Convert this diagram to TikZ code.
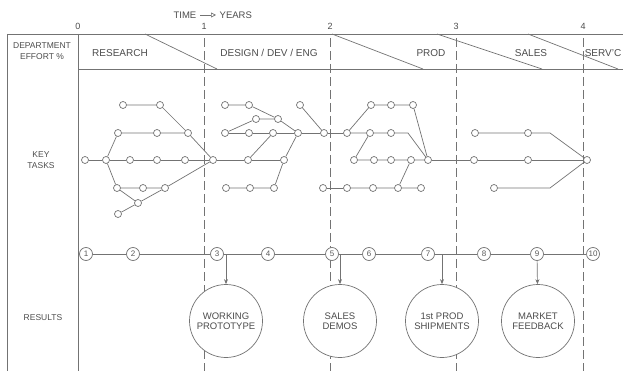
\documentclass[tikz,border=0pt]{standalone}
\usepackage{fontspec}
\setmainfont{Liberation Sans}
\usetikzlibrary{arrows.meta}
\begin{document}
\begin{tikzpicture}[x=1pt,y=-1pt,line width=0.7pt,draw=black!55,
  task/.style={circle,draw,fill=white,inner sep=0pt,minimum size=7pt},
  stage/.style={circle,draw,fill=white,inner sep=0pt,minimum size=13pt,font=\fontsize{8}{8}\selectfont,text=black!65},
  result/.style={circle,draw,fill=white,inner sep=0pt,minimum size=73pt,align=center,font=\fontsize{9.5}{10}\selectfont,text=black!70},
  label/.style={font=\fontsize{10}{11}\selectfont,text=black!70,align=center},
  year/.style={dash pattern=on 9pt off 4pt,line width=0.5pt},
  res arrow/.style={-{Stealth[length=5pt,width=4pt]}}]
\useasboundingbox (0,0) rectangle (623,371);
% frame and header
\draw (7,34) -- (623,34) (78,69) -- (623,69);
\draw (7,34) -- (7,371) (78,34) -- (78,371);
\draw (145,34) -- (217,69) (332,34) -- (423,69) (437,34) -- (542,69) (528,34) -- (618,69);
\foreach \xx/\yr in {78/0, 204/1, 330/2, 456/3, 583/4}
  \node[label,font=\fontsize{9}{9}\selectfont] (yr\yr) at (\xx,26) {\yr};
\foreach \xx in {204,330,456,583}
  \draw[year] (\xx,38) -- (\xx,371);
\node[label,font=\fontsize{9.5}{10}\selectfont,anchor=east] (time) at (200,15) {TIME};
\node[label,font=\fontsize{9.5}{10}\selectfont,anchor=west] (years) at (216,15) {YEARS};
\draw[-{Triangle[open,length=5pt,width=5pt]}] (time) -- (years);
\node[label,font=\fontsize{8.5}{11}\selectfont] (effort) at (42,51) {DEPARTMENT\\EFFORT \%};
\node[label] (research) at (120,53) {RESEARCH};
\node[label] (design) at (269,53) {DESIGN / DEV / ENG};
\node[label] (prod) at (431,53) {PROD};
\node[label] (sales) at (531,53) {SALES};
\node[label] (servc) at (603,53) {SERV'C};
\node[label,font=\fontsize{8.5}{11}\selectfont] (keytasks) at (41,160) {KEY\\TASKS};
\node[label,font=\fontsize{8.5}{11}\selectfont] (results) at (43,318) {RESULTS};
% key tasks
\foreach \n/\xx/\yy in {r0/85/160, r1/106/160, r2/130/160, r3/157/160, r4/185/160,
    u1/118/133, u2/157/133, u3/188/133, t1/123/105, t2/160/105,
    l1/117/188, l2/143/188, l3/165/188, d1/138/203, d2/118/214, m1/213/160,
    g1/248/160, g2/284/160, a1/225/105, a2/249/105, a3/278/119, b1/256/119,
    c1/225/133, c2/249/133, c3/273/133, c4/298/133, m2/324/133, e1/300/105,
    h1/226/188, h2/250/188, h3/274/188, k1/323/188,
    p0/347/133, p1/370/133, p2/391/133, s1/371/105, s2/391/105, s3/413/105,
    n1/354/160, n2/374/160, n3/391/160, n4/411/160, m3/428/160,
    q0/347/188, q1/373/188, q2/398/188, q3/421/188,
    v1/474/160, v2/528/160, w1/475/133, w2/528/133, z1/494/188, m4/587/160}
  \node[task] (\n) at (\xx,\yy) {};
\coordinate (bend1) at (408,133);
\coordinate (bend2) at (550,133);
\coordinate (bend3) at (550,188);
\begin{scope}[on background layer/.try]
\draw (r0) -- (r1) -- (r2) -- (r3) -- (r4) -- (m1);
\draw (r1) -- (u1) -- (u2) -- (u3) -- (m1);
\draw (t1) -- (t2) -- (u3);
\draw (r1) -- (l1) -- (l2) -- (l3) -- (m1);
\draw (l1) -- (d1);
\draw (d2) -- (d1) -- (l3);
\draw (m1) -- (g1) -- (g2);
\draw (a1) -- (a2) -- (a3) -- (b1) -- (c1);
\draw (a3) -- (c4);
\draw (c1) -- (c2) -- (c3) -- (c4) -- (m2) -- (p0);
\draw (g1) -- (c3) (g2) -- (c4) (e1) -- (m2);
\draw (h1) -- (h2) -- (h3) -- (g2);
\draw (k1) -- (q0);
\draw (p0) -- (p1) -- (p2) -- (bend1) -- (m3);
\draw (p0) -- (s1) -- (s2) -- (s3) -- (m3);
\draw (p1) -- (n1) -- (n2) -- (n3) -- (n4) -- (m3);
\draw (q0) -- (q1) -- (q2) -- (q3) (n4) -- (q2);
\draw (m3) -- (v1) -- (v2) -- (m4);
\draw (w1) -- (w2) -- (bend2) -- (m4);
\draw (z1) -- (bend3) -- (m4);
\end{scope}
% results
\foreach \i/\xx in {1/86, 2/133, 3/217, 4/268, 5/332, 6/369, 7/428, 8/484, 9/537, 10/593}
  \node[stage] (o\i) at (\xx,254) {\i};
\foreach \i [remember=\i as \j (initially 1)] in {2,...,10}
  \draw (o\j) -- (o\i);
\node[result] (proto) at (226,321) {WORKING\\PROTOTYPE};
\node[result] (demos) at (340,321) {SALES\\DEMOS};
\node[result] (ship) at (442,321) {1st PROD\\SHIPMENTS};
\node[result] (feedback) at (538,321) {MARKET\\FEEDBACK};
\draw[res arrow] (o3 -| proto) -- (proto);
\draw[res arrow] (o5 -| demos) -- (demos);
\draw[res arrow] (o7 -| ship) -- (ship);
\draw[res arrow] (o9) -- (feedback);
\end{tikzpicture}
\end{document}
